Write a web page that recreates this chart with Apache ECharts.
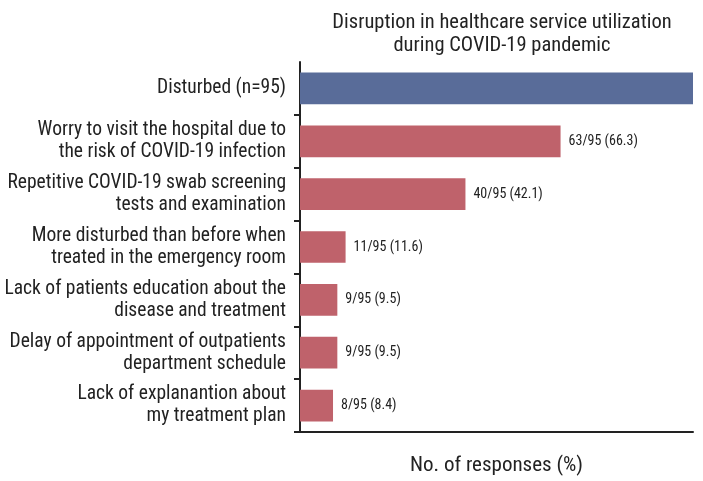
<!DOCTYPE html>
<html>
<head>
<meta charset="utf-8">
<script src="https://cdn.jsdelivr.net/npm/echarts@6/dist/echarts.min.js"></script>
<style>html,body{margin:0;padding:0;background:#fff}#c{width:703px;height:481px}</style>
</head>
<body>
<div id="c"></div>
<script>
var categories = [
  'Disturbed (n=95)',
  'Worry to visit the hospital due to\nthe risk of COVID-19 infection',
  'Repetitive COVID-19 swab screening\ntests and examination',
  'More disturbed than before when\ntreated in the emergency room',
  'Lack of patients education about the\ndisease and treatment',
  'Delay of appointment of outpatients\ndepartment schedule',
  'Lack of explanantion about\nmy treatment plan'
];
var percents = [100, 66.3, 42.1, 11.6, 9.5, 9.5, 8.4];
var valueLabels = ['', '63/95 (66.3)', '40/95 (42.1)', '11/95 (11.6)', '9/95 (9.5)', '9/95 (9.5)', '8/95 (8.4)'];
var FONT = '"Liberation Sans Narrow", "Roboto Condensed", "Arial Narrow", sans-serif';
var chart = echarts.init(document.getElementById('c'));
chart.setOption({
  animation: false,
  title: {
    text: 'Disruption in healthcare service utilization\nduring COVID-19 pandemic',
    left: 497, top: 6, textAlign: 'center',
    textStyle: {fontFamily: FONT, fontSize: 20.5, fontWeight: 'normal', color: '#222', lineHeight: 23}
  },
  grid: {left: 300, right: 10, top: 62, bottom: 43},
  xAxis: {
    type: 'value', min: 0, max: 100,
    name: 'No. of responses (%)', nameLocation: 'middle', nameGap: 23,
    nameTextStyle: {fontFamily: FONT, fontSize: 21, color: '#222'},
    axisLine: {show: true, lineStyle: {color: '#222', width: 2}},
    axisTick: {show: false}, axisLabel: {show: false}, splitLine: {show: false}
  },
  yAxis: {
    type: 'category', inverse: true, data: categories,
    axisLine: {show: true, lineStyle: {color: '#222', width: 2}},
    axisTick: {show: true, length: 6, lineStyle: {color: '#222', width: 2},
      interval: function (index) { return index !== 0; }},
    axisLabel: {fontFamily: FONT, fontSize: 19.5, color: '#222', lineHeight: 22, margin: 14, align: 'right'}
  },
  series: [{
    type: 'bar', barCategoryGap: '40%',
    data: percents.map(function (v, i) {
      return {value: v, itemStyle: {color: i === 0 ? '#596c99' : '#bf626b'}};
    }),
    label: {
      show: true, position: 'right', distance: 8,
      fontFamily: FONT, fontSize: 14, color: '#222',
      formatter: function (p) { return valueLabels[p.dataIndex]; }
    }
  }]
});
</script>
</body>
</html>
